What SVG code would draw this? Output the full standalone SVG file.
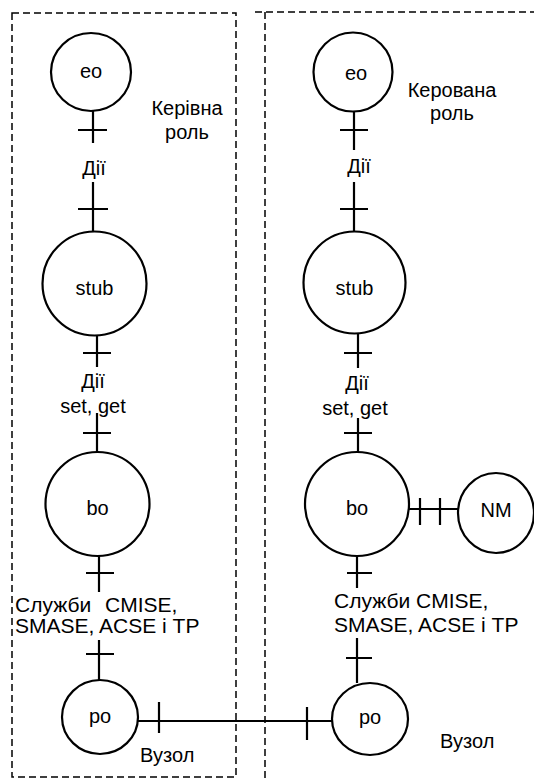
<svg xmlns="http://www.w3.org/2000/svg" width="534" height="778" viewBox="0 0 534 778">
<style>
.bx{fill:none;stroke:#000;stroke-width:1.5;stroke-dasharray:7 4}
.nd{fill:#fff;stroke:#000;stroke-width:2.2}
.ln{stroke:#000;stroke-width:2.2;fill:none}
text{font-family:"Liberation Sans",Arial,sans-serif;font-size:20px;fill:#000}
.c{text-anchor:middle}
.lb{font-size:21px}
</style>
<g id="boxes">
<rect class="bx" x="12" y="13" width="224" height="764"/>
<path class="bx" d="M255 12H534M265 12V778"/>
</g>
<g id="connectors">
<path class="ln" d="M93 111V143M78 130H107M93 182V232M78 209H108"/>
<path class="ln" d="M97 335V367M83 353H111M97 413V453M83 433H111"/>
<path class="ln" d="M99 555V592M86 573H114M99 640V680M86 654H114"/>
<path class="ln" d="M354 112V150M340 130H368M354 182V232M340 209H368"/>
<path class="ln" d="M358 333V368M344 353H372M358 418V453M344 433H372"/>
<path class="ln" d="M357 555V588M347 573H372M357 638V683M346 658H372"/>
<path class="ln" d="M409 509H458M420 498V525M440 498V525"/>
<path class="ln" d="M138 721H332M159 702V733M307 707V740"/>
</g>
<g id="eo-left"><ellipse class="nd" cx="91" cy="72" rx="40" ry="39"/><text class="c" x="91" y="78">eo</text></g>
<g id="stub-left"><circle class="nd" cx="94.5" cy="283.5" r="52"/><text class="c" x="94.5" y="295">stub</text></g>
<g id="bo-left"><circle class="nd" cx="97.5" cy="504" r="52"/><text class="c" x="97.5" y="515">bo</text></g>
<g id="po-left"><ellipse class="nd" cx="100" cy="717" rx="38" ry="37"/><text class="c" x="100" y="723">po</text></g>
<g id="eo-right"><circle class="nd" cx="353" cy="72" r="39.5"/><text class="c" x="356" y="80">eo</text></g>
<g id="stub-right"><circle class="nd" cx="354.5" cy="282.5" r="51"/><text class="c" x="354.5" y="295">stub</text></g>
<g id="bo-right"><circle class="nd" cx="357" cy="504" r="52"/><text class="c" x="357" y="515">bo</text></g>
<g id="nm"><ellipse class="nd" cx="496" cy="513" rx="38" ry="40"/><text class="c" x="496" y="517">NM</text></g>
<g id="po-right"><ellipse class="nd" cx="370" cy="719" rx="38" ry="36"/><text class="c" x="370" y="724">po</text></g>
<g id="labels">
<text class="c" x="187" y="115">Керівна</text>
<text class="c" x="187" y="139">роль</text>
<text class="c" x="94" y="175">Дії</text>
<text class="c" x="93" y="388">Дії</text>
<text class="c" x="93" y="413">set, get</text>
<text class="lb" x="15" y="612">Служби <tspan x="105">CMISE,</tspan></text>
<text class="lb" x="15" y="633">SMASE, ACSE і TP</text>
<text x="140" y="762">Вузол</text>
<text class="c" x="452" y="97">Керована</text>
<text class="c" x="452" y="120">роль</text>
<text class="c" x="359" y="173">Дії</text>
<text class="c" x="357" y="390">Дії</text>
<text class="c" x="355" y="415">set, get</text>
<text class="lb" x="334" y="608">Служби CMISE,</text>
<text class="lb" x="334" y="632">SMASE, ACSE і TP</text>
<text x="440" y="748">Вузол</text>
</g>
</svg>
